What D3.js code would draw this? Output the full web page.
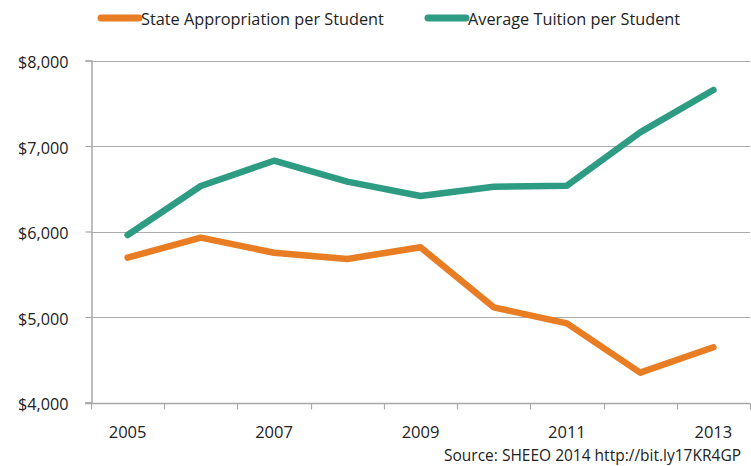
<!DOCTYPE html>
<html>
<head>
<meta charset="utf-8">
<script src="https://cdn.jsdelivr.net/npm/d3@7"></script>
<style>
  html, body { margin: 0; padding: 0; background: #fff; }
  svg text { font-family: "Open Sans", "Noto Sans", sans-serif; fill: #222; }
</style>
</head>
<body>
<svg id="chart" width="751" height="466"></svg>
<script>
const years = ["2005","2006","2007","2008","2009","2010","2011","2012","2013"];
const xTickLabels = ["2005","2007","2009","2011","2013"];
const stateAppropriation = [5694, 5928, 5752, 5678, 5815, 5113, 4926, 4349, 4646];
const averageTuition = [5959, 6532, 6828, 6583, 6415, 6524, 6536, 7160, 7655];
const yTicks = [4000, 5000, 6000, 7000, 8000];
const seriesNames = ["State Appropriation per Student", "Average Tuition per Student"];
const seriesColors = ["#E87D24", "#2E9B83"];
const sourceText = "Source: SHEEO 2014 http://bit.ly17KR4GP";

const svg = d3.select("#chart");
const margin = {left: 91, right: 1, top: 60.5, bottom: 63.5};
const W = 751, H = 466;

const x = d3.scaleBand().domain(years).range([margin.left, W - margin.right]);
const y = d3.scaleLinear().domain([4000, 8000]).range([H - margin.bottom, margin.top]);

// gridlines
svg.append("g").selectAll("line").data(yTicks.slice(1)).join("line")
  .attr("x1", margin.left).attr("x2", W - margin.right)
  .attr("y1", d => Math.round(y(d)) + 0.5).attr("y2", d => Math.round(y(d)) + 0.5)
  .attr("stroke", "#ababab").attr("stroke-width", 1.2);

// y axis
const yAxis = svg.append("g").attr("transform", `translate(${margin.left + 0.5},0)`)
  .call(d3.axisLeft(y).tickValues(yTicks).tickSize(6).tickPadding(17)
    .tickFormat(d => "$" + d3.format(",")(d)));
yAxis.select(".domain").attr("stroke", "#a8a8a8").attr("stroke-width", 1.5);
yAxis.selectAll(".tick line").attr("stroke", "#a8a8a8").attr("stroke-width", 1.2);
yAxis.selectAll(".tick text").attr("font-size", 16.2).attr("fill", "#222")
  .attr("dy", "0.45em")
  .attr("font-family", "Open Sans, sans-serif");

// x axis baseline and ticks between categories
const xAxisG = svg.append("g");
const baseY = Math.round(y(4000)) + 0.5;
xAxisG.append("line").attr("x1", margin.left - 6).attr("x2", W - margin.right)
  .attr("y1", baseY).attr("y2", baseY).attr("stroke", "#a8a8a8").attr("stroke-width", 1.5);
const boundaries = years.map(d => x(d)).concat([x(years[years.length - 1]) + x.bandwidth()]);
xAxisG.selectAll("line.tk").data(boundaries).join("line").attr("class", "tk")
  .attr("x1", d => Math.round(d) + 0.5).attr("x2", d => Math.round(d) + 0.5)
  .attr("y1", baseY).attr("y2", baseY + 6)
  .attr("stroke", "#a8a8a8").attr("stroke-width", 1.2);
xAxisG.selectAll("text").data(xTickLabels).join("text")
  .attr("x", d => x(d) + x.bandwidth() / 2).attr("y", 438)
  .attr("text-anchor", "middle").attr("font-size", 16.5).text(d => d);

// lines
const line = d3.line().x((d, i) => x(years[i]) + x.bandwidth() / 2).y(d => y(d));
[stateAppropriation, averageTuition].forEach((s, i) => {
  svg.append("path").datum(s).attr("d", line)
    .attr("fill", "none").attr("stroke", seriesColors[i]).attr("stroke-width", 6.5)
    .attr("stroke-linejoin", "round").attr("stroke-linecap", "round");
});

// legend
const legendX = [99, 426];
seriesNames.forEach((n, i) => {
  svg.append("line").attr("x1", legendX[i] + 2).attr("x2", legendX[i] + 40)
    .attr("y1", 18).attr("y2", 18).attr("stroke", seriesColors[i])
    .attr("stroke-width", 7).attr("stroke-linecap", "round");
  svg.append("text").attr("x", legendX[i] + 42).attr("y", 24.5)
    .attr("font-size", 16.3).text(n);
});

// source
svg.append("text").attr("x", 741).attr("y", 461).attr("text-anchor", "end")
  .attr("font-size", 15.5).text(sourceText);
</script>
</body>
</html>
